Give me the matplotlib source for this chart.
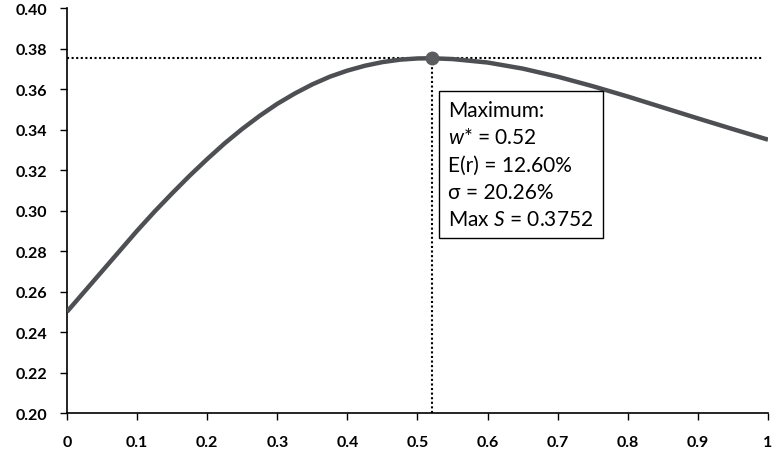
import matplotlib
matplotlib.use("Agg")
import matplotlib.pyplot as plt

# weight w and Sharpe ratio S
w = [0.0, 0.025, 0.05, 0.075, 0.1, 0.125, 0.15, 0.175, 0.2, 0.225, 0.25, 0.275,
     0.3, 0.325, 0.35, 0.375, 0.4, 0.425, 0.45, 0.475, 0.5, 0.52,
     0.55, 0.6, 0.65, 0.7, 0.75, 0.8, 0.85, 0.9, 0.95, 1.0]
sharpe = [0.250, 0.260, 0.270, 0.280, 0.290, 0.2995, 0.3085, 0.3172, 0.3254, 0.3332, 0.3403, 0.3468,
          0.3527, 0.3578, 0.3623, 0.3661, 0.3691, 0.3715, 0.3733, 0.3745, 0.3751, 0.3752,
          0.3748, 0.3731, 0.3701, 0.3661, 0.3614, 0.3563, 0.3509, 0.3455, 0.3402, 0.3350]

w_star = 0.52
s_max = 0.3752
box_lines = ["Maximum:", "$\\it{w}$* = 0.52", "E(r) = 12.60%", "\u03c3 = 20.26%",
             "Max $\\it{S}$ = 0.3752"]

xticks = [0, 0.1, 0.2, 0.3, 0.4, 0.5, 0.6, 0.7, 0.8, 0.9, 1.0]
xtick_labels = ["0", "0.1", "0.2", "0.3", "0.4", "0.5", "0.6", "0.7", "0.8", "0.9", "1"]
yticks = [0.20, 0.22, 0.24, 0.26, 0.28, 0.30, 0.32, 0.34, 0.36, 0.38, 0.40]

plt.rcParams["font.family"] = ["Lato", "DejaVu Sans"]
plt.rcParams["mathtext.fontset"] = "custom"
plt.rcParams["mathtext.it"] = "Lato:italic"
plt.rcParams["mathtext.rm"] = "Lato"

fig = plt.figure(figsize=(7.76, 4.52), dpi=100)
ax = fig.add_axes([0.0863, 0.084, 0.9034, 0.896])

ax.plot(w, sharpe, color="#4d4f52", linewidth=3.2, solid_capstyle="butt", zorder=3)
ax.plot([w_star], [s_max], "o", color="#5a5c5f", markersize=9, zorder=4)

# dotted guide lines
ax.plot([0, 0.993], [s_max, s_max], color="black", linestyle=(0, (1, 1.2)), linewidth=1.5, zorder=2)
ax.plot([w_star, w_star], [0.20, s_max], color="black", linestyle=(0, (1, 1.2)), linewidth=1.5, zorder=2)

ax.text(0.5435, 0.3546, "\n".join(box_lines), fontsize=15, va="top", ha="left",
        linespacing=1.45,
        bbox=dict(boxstyle="square,pad=0.45", facecolor="white", edgecolor="black", linewidth=1.0),
        zorder=5)

ax.set_xlim(0, 1.0)
ax.set_ylim(0.20, 0.40)
ax.set_xticks(xticks)
ax.set_xticklabels(xtick_labels)
ax.set_yticks(yticks)
ax.set_yticklabels(["%.2f" % v for v in yticks])

for sp in ["top", "right"]:
    ax.spines[sp].set_visible(False)
for sp in ["left", "bottom"]:
    ax.spines[sp].set_linewidth(1.2)

ax.tick_params(axis="both", direction="out", length=5, width=1, labelsize=11.5)
ax.tick_params(axis="x", pad=11)
ax.tick_params(axis="y", pad=9)
for lab in ax.get_xticklabels() + ax.get_yticklabels():
    lab.set_fontweight("bold")

fig.savefig("out.png", dpi=100)
